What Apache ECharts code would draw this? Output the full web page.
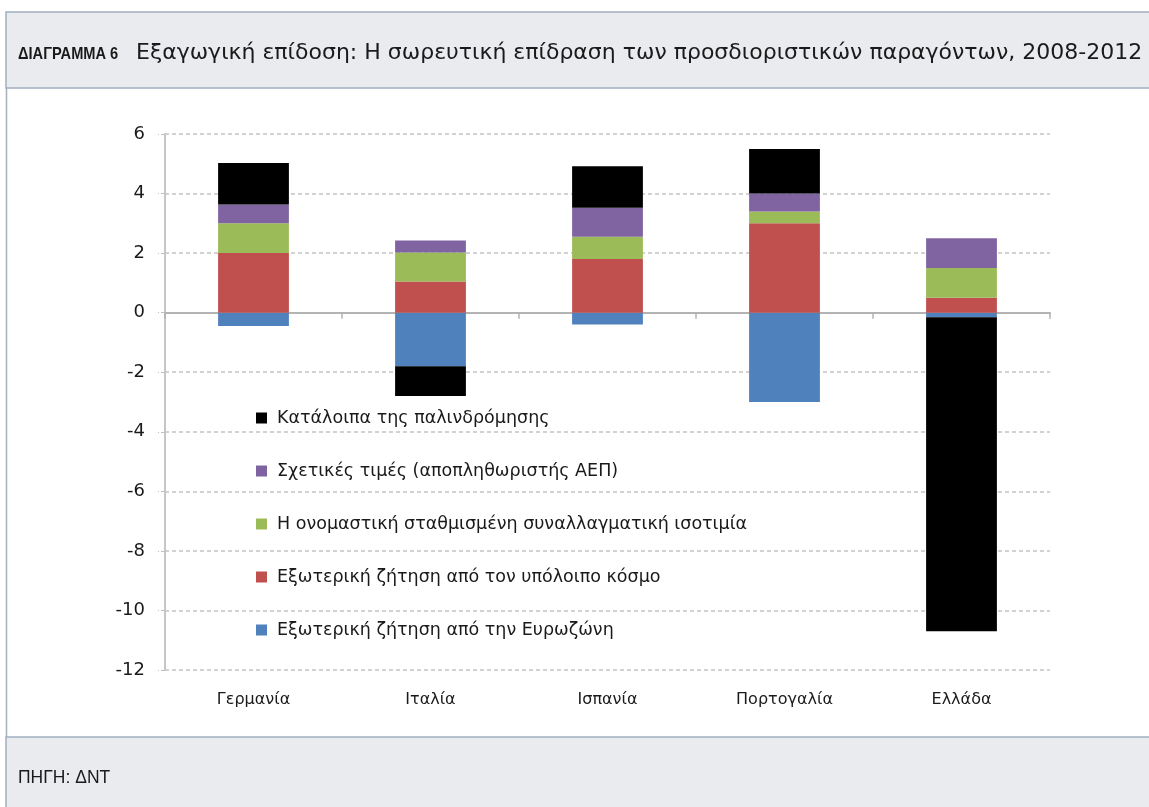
<!DOCTYPE html>
<html>
<head>
<meta charset="utf-8">
<title>ΔΙΑΓΡΑΜΜΑ 6</title>
<script src="https://cdn.jsdelivr.net/npm/echarts@6/dist/echarts.min.js"></script>
<style>
  html, body { margin: 0; padding: 0; background: #fff; }
  #main { width: 1149px; height: 807px; }
</style>
</head>
<body>
<div id="main"></div>
<script>
// categories and series
var countries = ['Γερμανία', 'Ιταλία', 'Ισπανία', 'Πορτογαλία', 'Ελλάδα'];
var euroDemand  = [-0.45, -1.8, -0.4, -3.0, -0.15];
var worldDemand = [2.0, 1.05, 1.8, 3.0, 0.5];
var exchRate    = [1.0, 0.97, 0.75, 0.4, 1.0];
var relPrices   = [0.63, 0.4, 0.97, 0.6, 1.0];
var residuals   = [1.4, -1.0, 1.4, 1.5, -10.55];
var yTicks = { min: -12, max: 6, step: 2 };

var names = {
  euro:  'Εξωτερική ζήτηση από την Ευρωζώνη',
  world: 'Εξωτερική ζήτηση από τον υπόλοιπο κόσμο',
  exch:  'Η ονομαστική σταθμισμένη συναλλαγματική ισοτιμία',
  price: 'Σχετικές τιμές (αποπληθωριστής ΑΕΠ)',
  resid: 'Κατάλοιπα της παλινδρόμησης'
};

var FONT = 'DejaVu Sans';
var myChart = echarts.init(document.getElementById('main'), null, { renderer: 'canvas' });

function bar(name, data, color) {
  return {
    name: name,
    type: 'bar',
    stack: 'total',
    barWidth: '40%',
    xAxisIndex: 0,
    itemStyle: { color: color },
    data: data
  };
}

var option = {
  animation: false,
  color: ['#4f81bd', '#c0504d', '#9bbb59', '#8064a2', '#000000'],
  graphic: [
    // header band
    { type: 'rect', shape: { x: 6, y: 12, width: 1160, height: 76 },
      style: { fill: '#e9ebef', stroke: '#a3afc1', lineWidth: 1.5 } },
    { type: 'text', x: 18, y: 54, scaleX: 0.86,
      style: { text: 'ΔΙΑΓΡΑΜΜΑ 6', fontFamily: 'Liberation Sans', fontWeight: 'bold',
               fontSize: 17, fill: '#1a1a1a', verticalAlign: 'middle' } },
    { type: 'text', x: 136, y: 53,
      style: { text: 'Εξαγωγική επίδοση: Η σωρευτική επίδραση των προσδιοριστικών παραγόντων, 2008-2012',
               fontFamily: FONT, fontSize: 22, fill: '#1a1a1a', verticalAlign: 'middle' } },
    // body left border
    { type: 'line', shape: { x1: 6.5, y1: 88, x2: 6.5, y2: 737 },
      style: { stroke: '#a3afc1', lineWidth: 1.5 } },
    // footer band
    { type: 'rect', shape: { x: 6, y: 737, width: 1160, height: 80 },
      style: { fill: '#e9ebef', stroke: '#a3afc1', lineWidth: 1.5 } },
    { type: 'text', x: 18, y: 778, scaleX: 0.92,
      style: { text: 'ΠΗΓΗ: ΔΝΤ', fontFamily: 'Liberation Sans',
               fontSize: 19, fill: '#1a1a1a', verticalAlign: 'middle' } }
  ],
  grid: { left: 165, right: 99, top: 134, bottom: 137 },
  legend: {
    orient: 'vertical',
    left: 251,
    top: 402,
    itemWidth: 11,
    itemHeight: 11,
    itemGap: 31,
    icon: 'rect',
    data: [names.resid, names.price, names.exch, names.world, names.euro],
    textStyle: { fontFamily: FONT, fontSize: 17.5, color: '#1a1a1a', lineHeight: 22, padding: [0, 0, 0, 5] }
  },
  xAxis: [
    {
      type: 'category',
      data: countries,
      position: 'bottom',
      axisLine: { show: false, onZero: false },
      axisTick: { show: false },
      axisLabel: { fontFamily: FONT, fontSize: 16, color: '#1a1a1a', margin: 22 }
    },
    {
      type: 'category',
      data: countries,
      position: 'bottom',
      axisLine: { show: true, onZero: true, lineStyle: { color: '#b3b3b3', width: 2 } },
      axisTick: { show: true, length: 6, lineStyle: { color: '#b3b3b3', width: 1.5 } },
      axisLabel: { show: false }
    }
  ],
  yAxis: {
    type: 'value',
    min: yTicks.min,
    max: yTicks.max,
    interval: yTicks.step,
    axisLine: { show: true, lineStyle: { color: '#c6c6c6', width: 2 } },
    axisTick: { show: true, length: 7, lineStyle: { color: '#c0c0c0', type: 'dashed' } },
    axisLabel: { fontFamily: FONT, fontSize: 18, color: '#1a1a1a', margin: 20 },
    splitLine: { show: true, lineStyle: { color: '#c4c4c4', type: [4, 3], width: 1.5 } }
  },
  series: [
    bar(names.euro, euroDemand, '#4f81bd'),
    bar(names.world, worldDemand, '#c0504d'),
    bar(names.exch, exchRate, '#9bbb59'),
    bar(names.price, relPrices, '#8064a2'),
    bar(names.resid, residuals, '#000000')
  ]
};

option && myChart.setOption(option);
</script>
</body>
</html>
